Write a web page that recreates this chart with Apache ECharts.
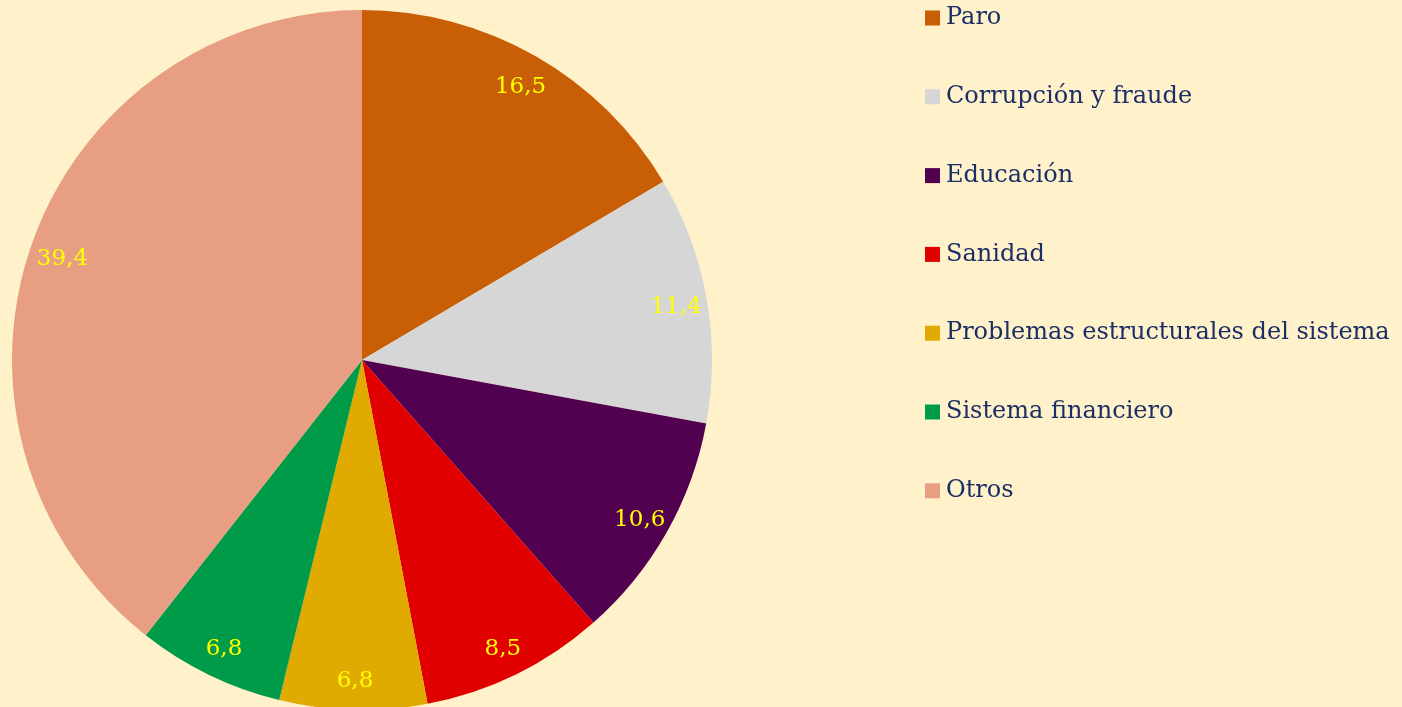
<!DOCTYPE html>
<html>
<head>
<meta charset="utf-8">
<script src="https://cdn.jsdelivr.net/npm/echarts@6/dist/echarts.min.js"></script>
<style>
  html, body { margin: 0; padding: 0; background: #FFF1CA; }
  #chart { width: 1402px; height: 707px; }
</style>
</head>
<body>
<div id="chart"></div>
<script>
// categorías y valores (%)
const categories = ['Paro', 'Corrupción y fraude', 'Educación', 'Sanidad',
  'Problemas estructurales del sistema', 'Sistema financiero', 'Otros'];
const values = [16.5, 11.4, 10.6, 8.5, 6.8, 6.8, 39.4];
const colors = ['#C85F06', '#D6D6D6', '#520050', '#E00000', '#E0AA00', '#009B48', '#E89E82'];

const chart = echarts.init(document.getElementById('chart'));

const pieData = categories.map((name, i) => ({ name: name, value: values[i] }));

chart.setOption({
  backgroundColor: '#FFF1CA',
  color: colors,
  animation: false,
  legend: {
    orient: 'vertical',
    left: 925,
    top: 6,
    padding: 0,
    itemGap: 54.8,
    itemWidth: 15,
    itemHeight: 15,
    icon: 'rect',
    textStyle: {
      fontFamily: 'DejaVu Serif',
      fontSize: 24,
      lineHeight: 24,
      color: '#1B2E66',
      padding: [0, 0, 0, 1]
    },
    data: categories
  },
  series: [
    {
      // relleno
      name: 'pie',
      type: 'pie',
      center: [362, 360],
      radius: [0, 350],
      startAngle: 90,
      clockwise: true,
      label: { show: false },
      labelLine: { show: false },
      itemStyle: { borderWidth: 0 },
      emphasis: { disabled: true },
      data: pieData
    },
    {
      // etiquetas (anillo transparente para situarlas a ~315px del centro)
      name: 'labels',
      type: 'pie',
      center: [362, 360],
      radius: [280, 350],
      startAngle: 90,
      clockwise: true,
      silent: true,
      itemStyle: { color: 'rgba(0,0,0,0)', borderWidth: 0 },
      label: {
        show: true,
        position: 'inside',
        color: '#FFFF00',
        fontFamily: 'DejaVu Serif',
        fontSize: 23,
        offset: [1, 3],
        formatter: p => String(p.value).replace('.', ',')
      },
      labelLine: { show: false },
      emphasis: { disabled: true },
      data: pieData
    }
  ]
});
</script>
</body>
</html>
